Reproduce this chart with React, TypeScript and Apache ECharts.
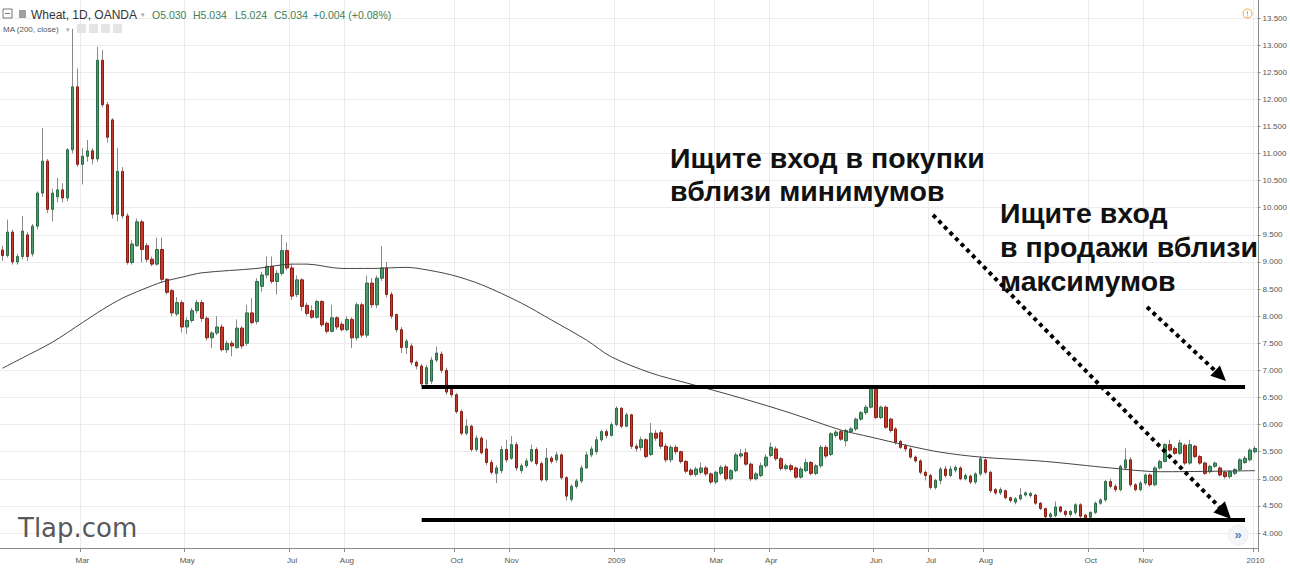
import React, { useEffect, useRef } from "react";
import * as echarts from "echarts";

// [open, close, low, high] — one candle per ~2 trading days
const candles: number[][] = [
  [9.22, 9.12, 9.02, 9.3], [9.12, 9.55, 9.08, 9.78], [9.55, 9.0, 8.95, 9.6], [9.0, 9.1, 8.95, 9.15],
  [9.1, 9.57, 9.05, 9.85], [9.5, 9.1, 9.02, 9.55], [9.15, 9.66, 9.1, 9.7], [9.66, 10.27, 9.6, 10.3],
  [10.27, 10.86, 10.2, 11.47], [10.86, 9.97, 9.9, 10.9], [9.97, 10.27, 9.75, 10.35], [10.2, 10.33, 10.1, 10.55],
  [10.33, 10.18, 10.1, 10.45], [10.18, 11.07, 10.12, 11.1], [11.07, 12.23, 11.0, 13.3], [12.23, 10.8, 10.75, 12.57],
  [10.8, 10.95, 10.43, 11.1], [10.95, 11.05, 10.85, 11.25], [11.05, 10.9, 10.8, 11.1], [10.9, 12.72, 10.85, 12.97],
  [12.72, 11.9, 11.85, 12.91], [11.9, 11.3, 11.2, 11.95], [11.62, 9.88, 9.8, 11.65], [9.88, 10.67, 9.75, 11.1],
  [10.67, 9.85, 9.8, 10.75], [9.85, 8.99, 8.95, 9.9], [8.99, 9.33, 8.95, 9.4], [9.3, 9.74, 9.28, 9.8],
  [9.74, 9.23, 8.99, 9.78], [9.3, 9.05, 9.0, 9.35], [9.05, 8.96, 8.92, 9.1], [8.96, 9.23, 8.93, 9.45],
  [9.23, 8.68, 8.62, 9.45], [8.68, 8.44, 8.4, 8.7], [8.47, 8.06, 8.0, 8.5], [8.04, 8.25, 8.0, 8.35],
  [8.25, 7.8, 7.7, 8.3], [7.8, 7.92, 7.67, 7.98], [7.92, 8.1, 7.88, 8.15], [8.1, 8.25, 8.05, 8.3],
  [8.25, 7.96, 7.9, 8.3], [7.96, 7.6, 7.55, 8.0], [7.6, 7.69, 7.41, 7.72], [7.69, 7.8, 7.65, 8.0],
  [7.8, 7.38, 7.35, 7.85], [7.38, 7.5, 7.32, 7.55], [7.5, 7.45, 7.26, 7.55], [7.42, 7.78, 7.4, 7.94],
  [7.78, 7.45, 7.4, 7.82], [7.5, 8.06, 7.45, 8.21], [8.06, 7.88, 7.85, 8.33], [7.9, 8.64, 7.85, 8.7],
  [8.55, 8.76, 8.45, 8.82], [8.76, 8.92, 8.7, 9.1], [8.92, 8.64, 8.6, 9.1], [8.64, 8.79, 8.4, 8.85],
  [8.79, 9.21, 8.75, 9.5], [9.21, 8.89, 8.85, 9.36], [8.89, 8.37, 8.3, 8.95], [8.4, 8.67, 8.35, 8.75],
  [8.67, 8.18, 8.1, 8.7], [8.2, 8.05, 8.0, 8.25], [8.1, 7.98, 7.95, 8.2], [7.98, 8.27, 7.95, 8.3],
  [8.27, 7.84, 7.8, 8.3], [7.87, 7.72, 7.68, 7.9], [7.72, 7.97, 7.7, 8.21], [7.97, 7.8, 7.75, 8.0],
  [7.85, 7.75, 7.72, 7.9], [7.75, 7.94, 7.72, 8.0], [7.94, 7.6, 7.41, 7.98], [7.6, 8.21, 7.55, 8.25],
  [8.21, 7.65, 7.6, 8.25], [7.65, 8.61, 7.6, 8.75], [8.61, 8.21, 8.15, 8.7], [8.21, 8.7, 8.15, 8.75],
  [8.7, 8.89, 8.65, 9.29], [8.89, 8.4, 8.35, 9.0], [8.4, 8.0, 7.95, 8.45], [8.03, 7.75, 7.7, 8.05],
  [7.75, 7.42, 7.32, 7.8], [7.42, 7.54, 7.3, 7.58], [7.45, 7.15, 7.1, 7.5], [7.15, 7.08, 7.02, 7.18],
  [7.08, 6.75, 6.7, 7.12], [6.75, 7.05, 6.72, 7.1], [6.8, 7.19, 6.75, 7.25], [7.19, 7.32, 7.15, 7.44],
  [7.3, 7.0, 6.95, 7.35], [7.0, 6.6, 6.55, 7.05], [6.65, 6.55, 6.5, 6.7], [6.55, 6.24, 6.2, 6.58],
  [6.24, 5.84, 5.8, 6.28], [5.84, 5.97, 5.8, 6.1], [5.97, 5.54, 5.5, 6.0], [5.54, 5.75, 5.5, 5.8],
  [5.75, 5.48, 5.45, 5.78], [5.55, 5.3, 5.25, 5.72], [5.3, 5.12, 5.08, 5.35], [5.1, 5.2, 4.92, 5.25],
  [5.15, 5.54, 5.1, 5.6], [5.54, 5.35, 5.3, 5.72], [5.38, 5.63, 5.35, 5.79], [5.63, 5.2, 5.15, 5.68],
  [5.15, 5.24, 5.1, 5.28], [5.24, 5.33, 5.2, 5.38], [5.33, 5.54, 5.3, 5.63], [5.54, 5.28, 5.24, 5.58],
  [5.28, 4.98, 4.95, 5.32], [4.98, 5.38, 4.95, 5.57], [5.38, 5.32, 5.28, 5.42], [5.35, 5.44, 5.3, 5.5],
  [5.44, 5.02, 4.98, 5.47], [5.02, 4.68, 4.6, 5.05], [4.62, 4.86, 4.58, 4.9], [4.86, 4.96, 4.82, 5.0],
  [4.96, 5.2, 4.92, 5.25], [5.2, 5.44, 5.18, 5.5], [5.44, 5.55, 5.4, 5.6], [5.5, 5.72, 5.45, 5.78],
  [5.72, 5.87, 5.68, 5.9], [5.87, 5.8, 5.75, 5.92], [5.8, 6.0, 5.78, 6.04], [6.0, 6.3, 5.97, 6.34],
  [6.3, 5.97, 5.93, 6.32], [5.97, 6.18, 5.95, 6.22], [6.18, 5.6, 5.55, 6.2], [5.6, 5.56, 5.5, 5.65],
  [5.58, 5.72, 5.52, 5.78], [5.72, 5.41, 5.38, 5.75], [5.45, 5.84, 5.42, 6.03], [5.84, 5.75, 5.7, 5.9],
  [5.85, 5.6, 5.55, 5.9], [5.6, 5.35, 5.3, 5.65], [5.35, 5.58, 5.3, 5.62], [5.58, 5.5, 5.45, 5.62],
  [5.5, 5.32, 5.28, 5.52], [5.32, 5.14, 5.1, 5.35], [5.16, 5.08, 5.05, 5.2], [5.08, 5.18, 5.04, 5.22],
  [5.12, 5.2, 5.08, 5.3], [5.2, 5.09, 5.05, 5.24], [5.09, 4.94, 4.9, 5.12], [4.94, 5.12, 4.9, 5.15],
  [5.1, 5.21, 5.06, 5.25], [5.22, 5.0, 4.96, 5.26], [5.0, 5.15, 4.97, 5.18], [5.15, 5.44, 5.12, 5.48],
  [5.42, 5.46, 5.38, 5.55], [5.48, 5.27, 5.24, 5.56], [5.27, 5.0, 4.96, 5.3], [5.0, 5.09, 4.97, 5.12],
  [5.06, 5.24, 5.03, 5.3], [5.24, 5.4, 5.2, 5.45], [5.43, 5.58, 5.4, 5.67], [5.55, 5.37, 5.33, 5.6],
  [5.37, 5.19, 5.15, 5.4], [5.19, 5.24, 5.15, 5.28], [5.24, 5.17, 5.13, 5.28], [5.2, 5.03, 5.0, 5.23],
  [5.03, 5.18, 5.0, 5.22], [5.15, 5.3, 5.12, 5.37], [5.3, 5.1, 5.06, 5.33], [5.1, 5.24, 5.07, 5.27],
  [5.24, 5.58, 5.2, 5.62], [5.58, 5.42, 5.38, 5.62], [5.45, 5.83, 5.42, 5.86], [5.8, 5.86, 5.76, 5.9],
  [5.87, 5.73, 5.7, 5.9], [5.7, 5.89, 5.6, 5.92], [5.87, 5.92, 5.84, 5.96], [5.92, 6.1, 5.88, 6.13],
  [6.1, 6.22, 6.07, 6.25], [6.22, 6.32, 6.18, 6.36], [6.32, 6.68, 6.3, 6.72], [6.65, 6.13, 6.1, 6.7],
  [6.13, 6.32, 6.1, 6.35], [6.32, 5.95, 5.92, 6.35], [6.1, 5.89, 5.85, 6.13], [5.92, 5.67, 5.63, 5.95],
  [5.69, 5.58, 5.55, 5.72], [5.61, 5.55, 5.5, 5.64], [5.55, 5.4, 5.37, 5.58], [5.4, 5.33, 5.3, 5.43],
  [5.33, 5.12, 5.08, 5.36], [5.12, 5.06, 4.97, 5.15], [5.06, 4.84, 4.8, 5.09], [4.84, 4.97, 4.8, 5.0],
  [4.97, 5.18, 4.9, 5.22], [5.18, 5.06, 5.02, 5.24], [5.06, 5.18, 5.03, 5.24], [5.16, 5.21, 5.12, 5.25],
  [5.2, 5.0, 4.97, 5.23], [5.0, 5.06, 4.97, 5.1], [5.05, 4.94, 4.9, 5.08], [4.94, 5.09, 4.9, 5.12],
  [5.09, 5.37, 5.05, 5.42], [5.35, 5.12, 5.08, 5.38], [5.12, 4.78, 4.74, 5.15], [4.8, 4.74, 4.7, 4.83],
  [4.74, 4.8, 4.7, 4.84], [4.78, 4.65, 4.62, 4.8], [4.65, 4.6, 4.56, 4.67], [4.57, 4.63, 4.53, 4.66],
  [4.63, 4.7, 4.6, 4.83], [4.7, 4.74, 4.67, 4.77], [4.69, 4.73, 4.65, 4.76], [4.7, 4.55, 4.52, 4.72],
  [4.55, 4.45, 4.42, 4.57], [4.45, 4.3, 4.27, 4.47], [4.3, 4.35, 4.26, 4.38], [4.32, 4.48, 4.29, 4.58],
  [4.48, 4.4, 4.37, 4.5], [4.4, 4.34, 4.3, 4.43], [4.34, 4.4, 4.3, 4.42], [4.38, 4.52, 4.34, 4.55],
  [4.52, 4.31, 4.28, 4.55], [4.33, 4.28, 4.25, 4.35], [4.29, 4.38, 4.26, 4.4], [4.38, 4.55, 4.35, 4.58],
  [4.55, 4.61, 4.52, 4.64], [4.61, 4.95, 4.58, 4.98], [4.95, 4.86, 4.82, 5.0], [4.86, 4.8, 4.76, 4.9],
  [4.8, 5.23, 4.77, 5.26], [5.2, 5.35, 5.17, 5.56], [5.35, 4.89, 4.85, 5.4], [4.89, 4.8, 4.77, 4.92],
  [4.8, 4.92, 4.77, 4.96], [4.92, 5.07, 4.88, 5.1], [5.07, 4.89, 4.85, 5.1], [4.89, 5.2, 4.86, 5.23],
  [5.2, 5.32, 5.17, 5.35], [5.32, 5.63, 5.3, 5.66], [5.63, 5.53, 5.5, 5.72], [5.56, 5.47, 5.44, 5.6],
  [5.47, 5.66, 5.44, 5.72], [5.62, 5.29, 5.25, 5.65], [5.29, 5.63, 5.26, 5.72], [5.6, 5.41, 5.38, 5.63],
  [5.41, 5.29, 5.26, 5.44], [5.29, 5.1, 5.07, 5.32], [5.13, 5.23, 5.1, 5.26], [5.23, 5.29, 5.2, 5.32],
  [5.2, 5.07, 5.04, 5.23], [5.12, 5.04, 5.0, 5.15], [5.04, 5.13, 5.0, 5.16], [5.1, 5.17, 5.07, 5.2],
  [5.17, 5.35, 5.14, 5.38], [5.3, 5.38, 5.27, 5.42], [5.35, 5.53, 5.32, 5.56], [5.5, 5.56, 5.47, 5.6],
];

// 200-day moving average, sampled at candle indices
const maIndex = [0, 4, 10, 16, 20, 24, 28, 32, 36, 40, 51, 58, 61, 68, 74, 81, 84, 90, 96, 104, 110, 117, 122, 130, 137, 148, 158, 168, 174, 181, 188, 196, 209, 222, 232, 251];
const maValue = [7.04, 7.23, 7.52, 7.88, 8.12, 8.33, 8.49, 8.63, 8.72, 8.8, 8.88, 8.96, 8.96, 8.88, 8.88, 8.9, 8.87, 8.76, 8.58, 8.24, 7.93, 7.56, 7.25, 6.95, 6.77, 6.49, 6.21, 5.9, 5.77, 5.62, 5.49, 5.4, 5.32, 5.2, 5.13, 5.15];

// month ticks (candle index of the boundary) and their labels
const monthIndex = [16, 37, 58, 69, 91, 102, 123, 143, 154, 175, 186, 197, 218, 229, 251];
const monthLabels = ["Mar", "May", "Jul", "Aug", "Oct", "Nov", "2009", "Mar", "Apr", "Jun", "Jul", "Aug", "Oct", "Nov", "2010"];

// horizontal support / resistance levels
const levelValues = [6.7, 4.25];
const levelFrom = 84;
const levelTo = 249;

const yMin = 4;
const yMax = 13.5;
const yStep = 0.5;

export default function App() {
  const ref = useRef<HTMLDivElement>(null);
  useEffect(() => {
    const chart = echarts.init(ref.current!, null, { renderer: "svg" });
    const cats = candles.map((_, i) => String(i));
    const bodies = candles.map(([o, c]) => [o, c, Math.min(o, c), Math.max(o, c)]);
    const isMonth = (i: number) => monthIndex.indexOf(i) >= 0;
    const FF = '"Liberation Sans", Arial, sans-serif';
    const axisColor = "#8c8c8c";
    const gridColor = "#ececec";

    const u1 = [0.697, 0.716];
    const t1 = [1231, 519];
    const u2 = [0.725, 0.688];
    const t2 = [1226, 381];
    const head = (t: number[], u: number[], len: number, hw: number) => {
      const b = [t[0] - len * u[0], t[1] - len * u[1]];
      const n = [-u[1], u[0]];
      return [
        [t[0], t[1]],
        [b[0] + hw * n[0], b[1] + hw * n[1]],
        [b[0] - hw * n[0], b[1] - hw * n[1]],
      ];
    };
    const h1 = head(t1, u1, 17, 8);
    const h2 = head(t2, u2, 15, 7);
    const b1 = [t1[0] - 14 * u1[0], t1[1] - 14 * u1[1]];
    const b2 = [t2[0] - 12 * u2[0], t2[1] - 12 * u2[1]];

    const txt = (text: string, x: number, y: number, font: string, fill: string) => ({
      type: "text",
      x,
      y,
      silent: true,
      z: 100,
      style: { text, font, fill, textAlign: "left", textVerticalAlign: "middle", align: "left", verticalAlign: "middle" },
    });
    const bigFont = 'bold 28.5px "Liberation Sans", Arial, sans-serif';

    const option: any = {
      animation: false,
      backgroundColor: "#ffffff",
      grid: [
        { left: 0, right: 32, top: 18, height: 515, containLabel: false },
        { left: 0, right: 32, top: 0, height: 548, containLabel: false },
      ],
      xAxis: [
        { type: "category", gridIndex: 0, data: cats, boundaryGap: true, show: false },
        {
          type: "category",
          gridIndex: 1,
          data: cats,
          boundaryGap: true,
          axisLine: { show: true, lineStyle: { color: axisColor, width: 1 } },
          axisTick: { show: true, interval: (i: number) => isMonth(i), length: 4, lineStyle: { color: axisColor } },
          axisLabel: {
            interval: (i: number) => isMonth(i),
            formatter: (_v: string, i: number) => monthLabels[monthIndex.indexOf(i)] ?? "",
            color: "#555",
            fontSize: 8,
            fontFamily: FF,
            margin: 8,
          },
          splitLine: { show: true, interval: (i: number) => isMonth(i), lineStyle: { color: gridColor, width: 1 } },
        },
      ],
      yAxis: [
        {
          type: "value",
          gridIndex: 0,
          position: "right",
          min: yMin,
          max: yMax,
          interval: yStep,
          axisLine: { show: false },
          axisTick: { show: true, length: 3, lineStyle: { color: axisColor } },
          axisLabel: { formatter: (v: number) => v.toFixed(3), color: "#555", fontSize: 8, fontFamily: FF, margin: 5 },
          splitLine: { show: true, lineStyle: { color: gridColor, width: 1 } },
        },
        {
          type: "value",
          gridIndex: 1,
          position: "right",
          min: 0,
          max: 1,
          axisLine: { show: true, lineStyle: { color: axisColor, width: 1 } },
          axisTick: { show: false },
          axisLabel: { show: false },
          splitLine: { show: false },
        },
      ],
      series: [
        {
          type: "candlestick",
          name: "wick",
          xAxisIndex: 0,
          yAxisIndex: 0,
          data: candles,
          barWidth: 1,
          z: 2,
          silent: true,
          itemStyle: { color: "#8a8a8a", color0: "#8a8a8a", borderColor: "#8a8a8a", borderColor0: "#8a8a8a", borderWidth: 1 },
        },
        {
          type: "candlestick",
          name: "Wheat",
          xAxisIndex: 0,
          yAxisIndex: 0,
          data: bodies,
          barWidth: 3,
          z: 3,
          silent: true,
          itemStyle: { color: "#4b9a6b", color0: "#c0392b", borderColor: "#2b6b47", borderColor0: "#8b1e14", borderWidth: 1 },
          markLine: {
            silent: true,
            symbol: "none",
            animation: false,
            label: { show: false },
            lineStyle: { color: "#000", width: 4, type: "solid" },
            data: levelValues.map((v) => [{ coord: [levelFrom, v] }, { coord: [levelTo, v] }]),
          },
        },
        {
          type: "line",
          name: "MA (200, close)",
          xAxisIndex: 0,
          yAxisIndex: 0,
          data: maIndex.map((x, i) => [x, maValue[i]]),
          smooth: 0.3,
          showSymbol: false,
          symbol: "none",
          silent: true,
          z: 4,
          lineStyle: { color: "#444", width: 1 },
        },
      ],
      graphic: [
        // header
        { type: "rect", x: 3, y: 9, shape: { width: 9, height: 9 }, style: { fill: "none", stroke: "#777", lineWidth: 1 }, silent: true, z: 100 },
        { type: "line", shape: { x1: 5, y1: 13.5, x2: 10, y2: 13.5 }, style: { stroke: "#777", lineWidth: 1 }, silent: true, z: 100 },
        { type: "rect", x: 19, y: 10, shape: { width: 7, height: 8 }, style: { fill: "#a0a0a0" }, silent: true, z: 100 },
        txt("Wheat, 1D, OANDA", 31, 14.5, `12px ${FF}`, "#333"),
        txt("▾", 141, 14.5, `7px ${FF}`, "#aaa"),
        txt("O5.030", 152, 14.5, `10.5px ${FF}`, "#3d7f57"),
        txt("H5.034", 193, 14.5, `10.5px ${FF}`, "#3d7f57"),
        txt("L5.024", 235, 14.5, `10.5px ${FF}`, "#3d7f57"),
        txt("C5.034", 274, 14.5, `10.5px ${FF}`, "#3d7f57"),
        txt("+0.004 (+0.08%)", 313, 14.5, `10.5px ${FF}`, "#3d7f57"),
        txt("MA (200, close)", 3, 29, `8px ${FF}`, "#555"),
        txt("▾", 66, 29, `7px ${FF}`, "#aaa"),
        { type: "rect", x: 77, y: 24, shape: { width: 9, height: 9 }, style: { fill: "#e4e4e4" }, silent: true, z: 100 },
        { type: "rect", x: 89, y: 24, shape: { width: 9, height: 9 }, style: { fill: "#e4e4e4" }, silent: true, z: 100 },
        { type: "rect", x: 101, y: 24, shape: { width: 9, height: 9 }, style: { fill: "#e4e4e4" }, silent: true, z: 100 },
        { type: "rect", x: 113, y: 24, shape: { width: 9, height: 9 }, style: { fill: "#e4e4e4" }, silent: true, z: 100 },
        // orange warning icon
        { type: "circle", shape: { cx: 1247.5, cy: 13.5, r: 4.5 }, style: { fill: "none", stroke: "#f39c3c", lineWidth: 1 }, silent: true, z: 100 },
        { type: "line", shape: { x1: 1247.5, y1: 11, x2: 1247.5, y2: 14.5 }, style: { stroke: "#f39c3c", lineWidth: 1 }, silent: true, z: 100 },
        { type: "line", shape: { x1: 1247.5, y1: 15.5, x2: 1247.5, y2: 16.5 }, style: { stroke: "#f39c3c", lineWidth: 1 }, silent: true, z: 100 },
        // scroll button
        { type: "circle", shape: { cx: 1238, cy: 535, r: 10 }, style: { fill: "#f3f5f9", stroke: "#eceff4" }, silent: true, z: 100 },
        { type: "text", x: 1238, y: 534, silent: true, z: 101, style: { text: "»", font: `bold 13px ${FF}`, fill: "#5b82c4", textAlign: "center", textVerticalAlign: "middle", align: "center", verticalAlign: "middle" } },
        // watermark
        txt("Tlap.com", 18, 528, '26px "DejaVu Sans", sans-serif', "#595959"),
        // annotations
        txt("Ищите вход в покупки", 670, 158, bigFont, "#111"),
        txt("вблизи минимумов", 670, 191, bigFont, "#111"),
        txt("Ищите вход", 1000, 213, bigFont, "#111"),
        txt("в продажи вблизи", 1000, 247, bigFont, "#111"),
        txt("максимумов", 1000, 281, bigFont, "#111"),
        // dotted arrows
        { type: "line", silent: true, z: 100, shape: { x1: 933, y1: 215, x2: b1[0], y2: b1[1] }, style: { stroke: "#000", lineWidth: 4, lineDash: [4, 4] } },
        { type: "polygon", silent: true, z: 100, shape: { points: h1 }, style: { fill: "#000" } },
        { type: "line", silent: true, z: 100, shape: { x1: 1147, y1: 307, x2: b2[0], y2: b2[1] }, style: { stroke: "#000", lineWidth: 4, lineDash: [4, 4] } },
        { type: "polygon", silent: true, z: 100, shape: { points: h2 }, style: { fill: "#000" } },
      ],
    };
    chart.setOption(option);
    return () => chart.dispose();
  }, []);
  return (
    <div
      ref={ref}
      style={{ position: "fixed", left: 0, top: 0, width: 1290, height: 570, background: "#fff" }}
    />
  );
}
